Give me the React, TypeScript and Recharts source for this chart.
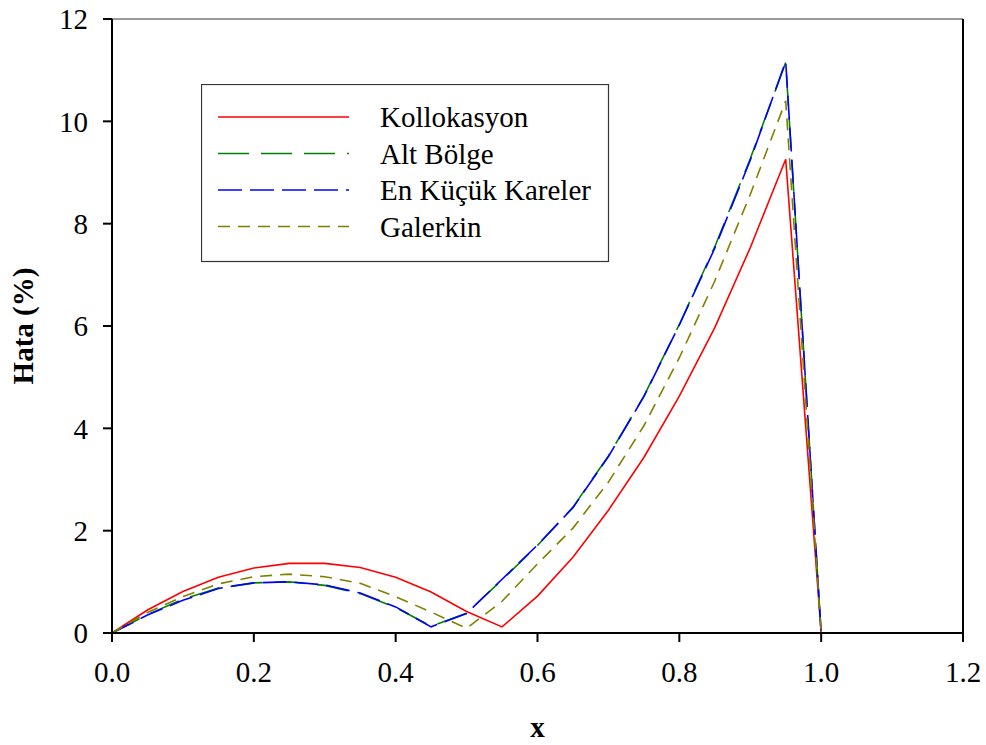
import React from 'react'
import { Legend, Line, LineChart, ReferenceLine, XAxis, YAxis } from 'recharts'

const X_VALUES = [0, 0.05, 0.1, 0.15, 0.2, 0.25, 0.3, 0.35, 0.4, 0.45, 0.5, 0.55, 0.6, 0.65, 0.7, 0.75, 0.8, 0.85, 0.9, 0.95, 1.0]
const KOLLOKASYON = [0, 0.45, 0.81, 1.09, 1.27, 1.36, 1.36, 1.28, 1.09, 0.8, 0.42, 0.12, 0.72, 1.48, 2.4, 3.43, 4.63, 5.97, 7.53, 9.26, 0]
const ALT_BOLGE = [0, 0.36, 0.66, 0.88, 0.98, 1.0, 0.93, 0.77, 0.5, 0.13, 0.39, 1.04, 1.71, 2.46, 3.46, 4.63, 6.03, 7.55, 9.27, 11.15, 0]
const EN_KUCUK = [0, 0.35, 0.64, 0.87, 0.98, 1.0, 0.94, 0.78, 0.51, 0.12, 0.38, 1.05, 1.72, 2.45, 3.45, 4.62, 6.02, 7.52, 9.24, 11.17, 0]
const GALERKIN = [0, 0.4, 0.71, 0.96, 1.1, 1.15, 1.1, 0.97, 0.71, 0.41, 0.09, 0.62, 1.35, 2.05, 2.95, 4.05, 5.38, 6.88, 8.57, 10.4, 0]

const X_TICKS = [0, 0.2, 0.4, 0.6, 0.8, 1.0, 1.2]
const Y_TICKS = [0, 2, 4, 6, 8, 10, 12]

const FONT = 'Liberation Serif, DejaVu Serif, serif'
const FONT_SIZE = 29

const SERIES = [
  { key: 'kol', name: 'Kollokasyon', color: '#ff0000', dash: undefined as string | undefined, values: KOLLOKASYON },
  { key: 'alt', name: 'Alt Bölge', color: '#008000', dash: '31 12', values: ALT_BOLGE },
  { key: 'enk', name: 'En Küçük Kareler', color: '#0000ff', dash: '24 8', values: EN_KUCUK },
  { key: 'gal', name: 'Galerkin', color: '#808000', dash: '12 8', values: GALERKIN },
]

const data = X_VALUES.map((x, i) => {
  const row: Record<string, number> = { x }
  for (const s of SERIES) row[s.key] = s.values[i]
  return row
})

const textStyle = { fontFamily: FONT }

function LegendBox() {
  return (
    <svg width={409} height={179} style={{ display: 'block' }}>
      <rect x={0.5} y={0.5} width={407} height={177} fill="#fff" stroke="#333" strokeWidth={1.2} />
      {SERIES.map((s, i) => {
        const y = 33 + i * 36.5
        return (
          <g key={s.key}>
            <line x1={17} x2={148} y1={y} y2={y} stroke={s.color} strokeWidth={1.6} strokeDasharray={s.dash} />
            <text x={179} y={y} dominantBaseline="central" style={textStyle} fontSize={FONT_SIZE} fill="#000">
              {s.name}
            </text>
          </g>
        )
      })}
    </svg>
  )
}

export default function App() {
  return (
    <div style={{ position: 'absolute', left: 0, top: 0, width: 986, height: 745, background: '#fff', fontFamily: FONT }}>
      <LineChart width={986} height={745} data={data} margin={{ top: 19, right: 23, bottom: 2, left: 0 }}>
        <XAxis
          dataKey="x"
          type="number"
          domain={[0, 1.2]}
          ticks={X_TICKS}
          tickFormatter={(v: number) => v.toFixed(1)}
          height={110}
          stroke="#000"
          strokeWidth={2}
          tickSize={9}
          tickMargin={19}
          tick={{ fill: '#000', fontSize: FONT_SIZE, style: textStyle }}
          label={(props: any) => {
            const vb = props.viewBox
            return (
              <text
                x={vb.x + vb.width / 2}
                y={vb.y + 104}
                textAnchor="middle"
                style={textStyle}
                fontSize={FONT_SIZE}
                fontWeight="bold"
                fill="#000"
              >
                x
              </text>
            )
          }}
        />
        <YAxis
          type="number"
          domain={[0, 12]}
          ticks={Y_TICKS}
          width={112}
          stroke="#000"
          strokeWidth={2}
          tickSize={9}
          tickMargin={15}
          tick={{ fill: '#000', fontSize: FONT_SIZE, style: textStyle }}
          label={(props: any) => {
            const vb = props.viewBox
            const cy = vb.y + vb.height / 2
            return (
              <text
                x={23}
                y={cy}
                textAnchor="middle"
                dominantBaseline="central"
                transform={`rotate(-90, 23, ${cy})`}
                style={textStyle}
                fontSize={FONT_SIZE}
                fontWeight="bold"
                fill="#000"
              >
                Hata (%)
              </text>
            )
          }}
        />
        <ReferenceLine y={12} stroke="#777" strokeWidth={1.5} />
        <ReferenceLine x={1.2} stroke="#000" strokeWidth={2} />
        <Legend
          layout="vertical"
          align="center"
          verticalAlign="middle"
          wrapperStyle={{ position: 'absolute', left: 201, top: 84, width: 409, height: 179 }}
          content={() => <LegendBox />}
        />
        {SERIES.map((s) => (
          <Line
            key={s.key}
            type="linear"
            dataKey={s.key}
            name={s.name}
            stroke={s.color}
            strokeWidth={1.6}
            strokeDasharray={s.dash}
            dot={false}
            activeDot={false}
            isAnimationActive={false}
          />
        ))}
      </LineChart>
    </div>
  )
}
